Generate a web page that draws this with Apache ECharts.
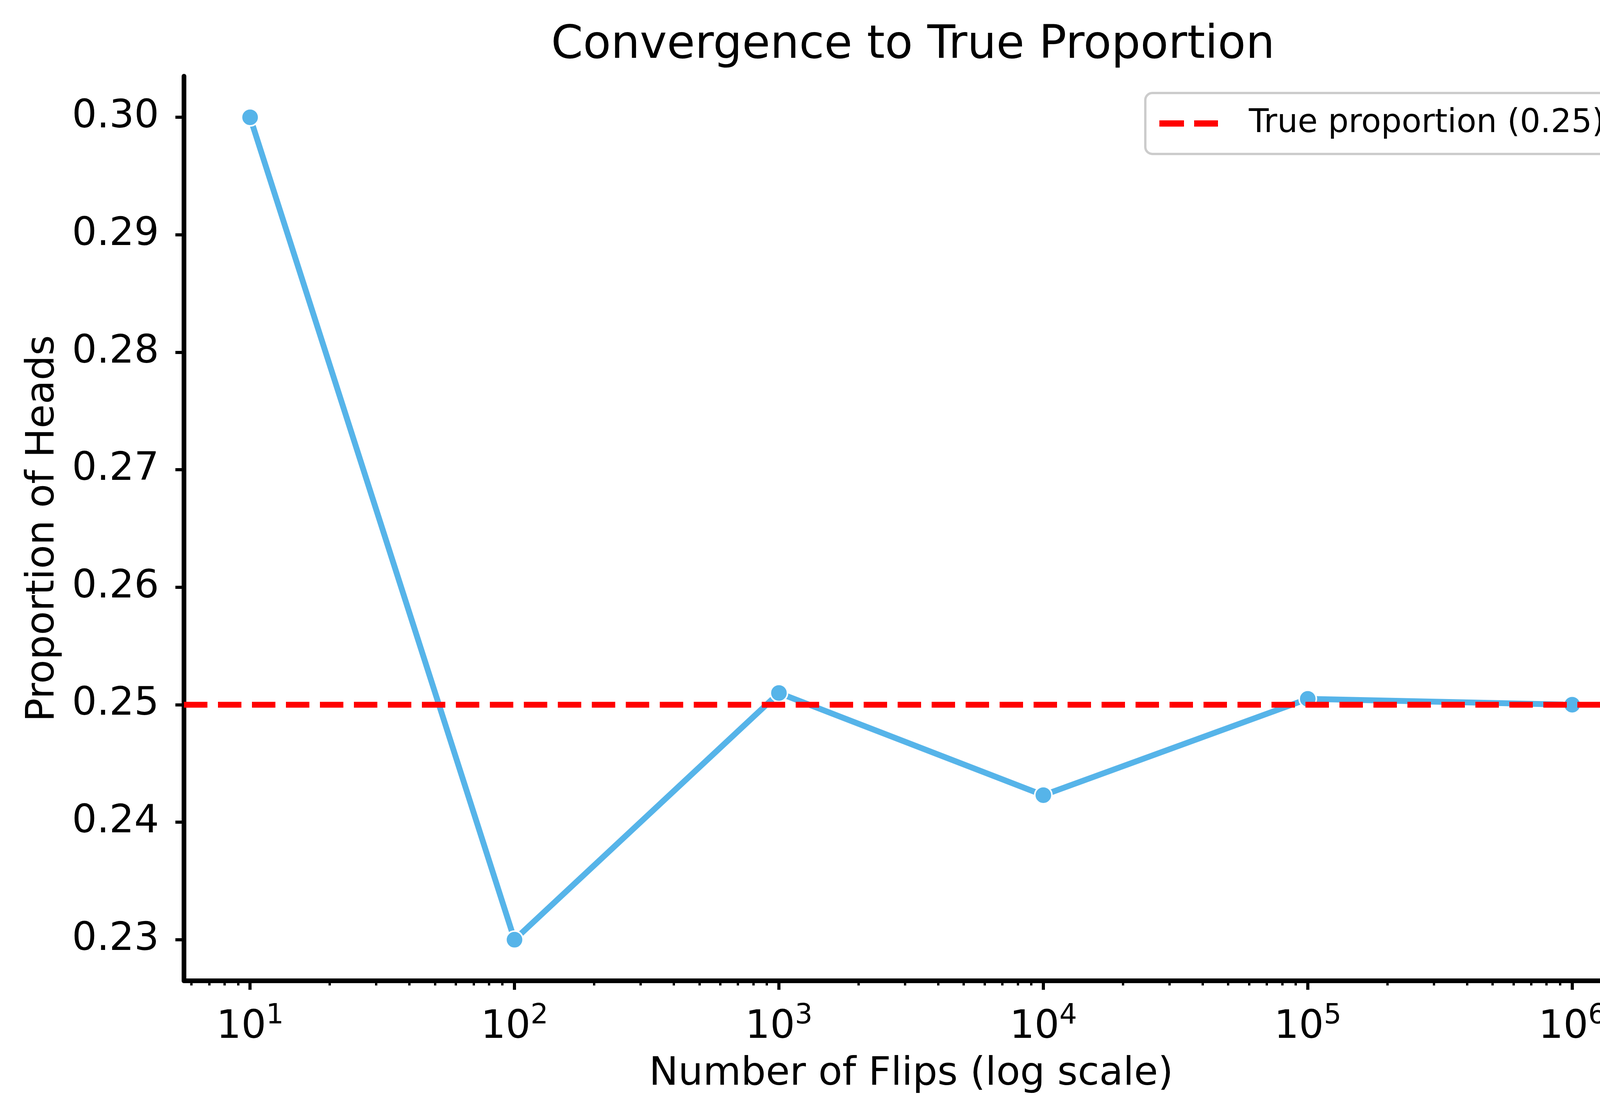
<!DOCTYPE html>
<html>
<head>
<meta charset="utf-8">
<script src="https://cdn.jsdelivr.net/npm/echarts@6/dist/echarts.min.js"></script>
<style>html,body{margin:0;padding:0;background:#fff;overflow:hidden;}#c{width:4251px;height:2856px;}</style>
</head>
<body>
<div id="c"></div>
<script>
const flips = [10, 100, 1000, 10000, 100000, 1000000];
const proportions = [0.30, 0.23, 0.251, 0.2423, 0.2505, 0.2500];
const trueProportion = 0.25;
const yTicks = [0.23, 0.24, 0.25, 0.26, 0.27, 0.28, 0.29, 0.30];
const xMajorTicks = [10, 100, 1000, 10000, 100000, 1000000];
const xMinorTicks = [6, 7, 8, 9,
  20, 30, 40, 50, 60, 70, 80, 90,
  200, 300, 400, 500, 600, 700, 800, 900,
  2000, 3000, 4000, 5000, 6000, 7000, 8000, 9000,
  20000, 30000, 40000, 50000, 60000, 70000, 80000, 90000,
  200000, 300000, 400000, 500000, 600000, 700000, 800000, 900000];

const FONT = 'DejaVu Sans';
const xMin = Math.pow(10, 0.75), xMax = Math.pow(10, 6.25);
const yMin = 0.2265, yMax = 0.3035;

const chart = echarts.init(document.getElementById('c'));
const xAxisCommon = {
  type: 'log', logBase: 10, min: xMin, max: xMax, gridIndex: 0, position: 'bottom',
  splitLine: { show: false }, axisPointer: { show: false }
};
chart.setOption({
  animation: false,
  backgroundColor: '#ffffff',
  title: {
    text: 'Convergence to True Proportion',
    left: 2332, top: 54, textAlign: 'center',
    textStyle: { fontFamily: FONT, fontSize: 117, fontWeight: 'normal', color: '#000' }
  },
  legend: {
    left: 2932, top: 238,
    padding: [28, 59, 28, 36],
    backgroundColor: '#fff',
    borderColor: '#cccccc', borderWidth: 6, borderRadius: 18,
    itemWidth: 150, itemHeight: 16,
    icon: 'path://M0,0H63V16H0Z M89,0H150V16H89Z',
    data: ['True proportion (0.25)'],
    textStyle: { fontFamily: FONT, fontSize: 83, color: '#000', lineHeight: 100, padding: [0, 0, 0, 74] }
  },
  grid: { left: 471, right: 57, top: 195, bottom: 346, containLabel: false },
  xAxis: [
    Object.assign({}, xAxisCommon, {
      name: 'Number of Flips (log scale)', nameLocation: 'middle', nameGap: 190,
      nameTextStyle: { fontFamily: FONT, fontSize: 100, color: '#000' },
      axisLine: { show: true, onZero: false, lineStyle: { color: '#000', width: 12 } },
      axisTick: { show: true, inside: false, length: 23, customValues: xMajorTicks, lineStyle: { color: '#000', width: 8 } },
      axisLabel: {
        show: true, margin: 55, customValues: xMajorTicks,
        formatter: function (v) { return '{b|10}{s|' + Math.round(Math.log10(v)) + '}'; },
        rich: {
          b: { fontFamily: FONT, fontSize: 100, color: '#000', lineHeight: 130 },
          s: { fontFamily: FONT, fontSize: 71, color: '#000', lineHeight: 72, verticalAlign: 'top' }
        }
      }
    }),
    Object.assign({}, xAxisCommon, {
      axisLine: { show: false },
      axisTick: { show: true, inside: false, length: 12, customValues: xMinorTicks, lineStyle: { color: '#000', width: 6 } },
      axisLabel: { show: false }
    })
  ],
  yAxis: {
    type: 'value', min: yMin, max: yMax,
    name: 'Proportion of Heads', nameLocation: 'middle', nameGap: 310,
    nameTextStyle: { fontFamily: FONT, fontSize: 100, color: '#000' },
    splitLine: { show: false },
    axisLine: { show: true, onZero: false, lineStyle: { color: '#000', width: 12 } },
    axisTick: { show: true, inside: false, length: 22, customValues: yTicks, lineStyle: { color: '#000', width: 8 } },
    axisLabel: {
      show: true, margin: 64, customValues: yTicks,
      formatter: function (v) { return v.toFixed(2); },
      fontFamily: FONT, fontSize: 100, color: '#000'
    }
  },
  series: [
    {
      name: 'Proportion', type: 'line', xAxisIndex: 0,
      data: flips.map((f, i) => [f, proportions[i]]),
      lineStyle: { color: '#56B4E9', width: 15 },
      itemStyle: { color: '#56B4E9', borderColor: '#ffffff', borderWidth: 4 },
      symbol: 'circle', symbolSize: 44, showSymbol: true, z: 3
    },
    {
      name: 'True proportion (0.25)', type: 'line', xAxisIndex: 0, data: [],
      color: '#ff0000',
      lineStyle: { color: '#ff0000', width: 15, type: [60, 27] },
      itemStyle: { color: '#ff0000' },
      symbol: 'none',
      markLine: {
        silent: true, symbol: ['none', 'none'],
        label: { show: false },
        lineStyle: { color: '#ff0000', width: 15, type: [60, 27] },
        data: [{ yAxis: trueProportion }]
      },
      z: 4
    }
  ]
});
</script>
</body>
</html>
